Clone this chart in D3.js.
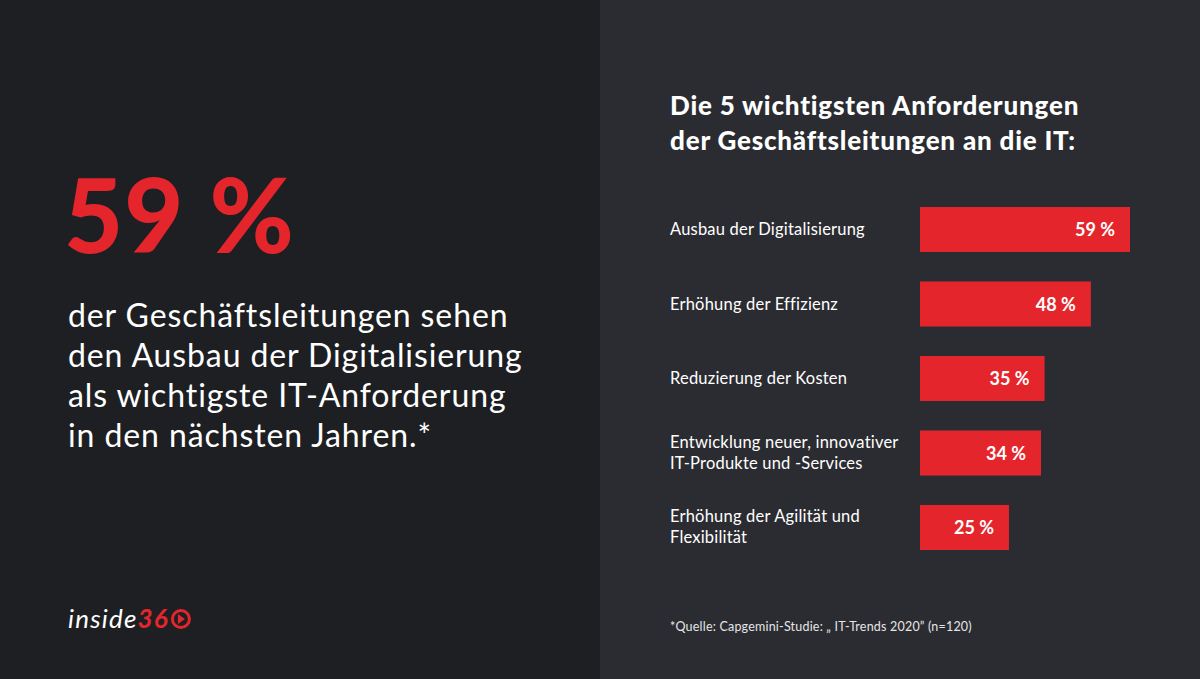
<!DOCTYPE html>
<html>
<head>
<meta charset="utf-8">
<script src="https://cdn.jsdelivr.net/npm/d3@7"></script>
<style>
  body { margin: 0; background: #1e1f23; }
  svg { display: block; font-family: Lato, "Open Sans", sans-serif; }
</style>
</head>
<body>
<div id="chart"></div>
<script>
// data
var categories = [
    ["Ausbau der Digitalisierung"],
    ["Erhöhung der Effizienz"],
    ["Reduzierung der Kosten"],
    ["Entwicklung neuer, innovativer", "IT-Produkte und -Services"],
    ["Erhöhung der Agilität und", "Flexibilität"]
];
var values = [59, 48, 35, 34, 25];
var headline = "59 %";
var bodyLines = ["der Geschäftsleitungen sehen", "den Ausbau der Digitalisierung", "als wichtigste IT-Anforderung", "in den nächsten Jahren.*"];
var titleLines = ["Die 5 wichtigsten Anforderungen", "der Geschäftsleitungen an die IT:"];
var source = "*Quelle: Capgemini-Studie: „ IT-Trends 2020” (n=120)";

var width = 1200, height = 679;
var red = "#e4262c";

var svg = d3.select("#chart").append("svg")
    .attr("width", width)
    .attr("height", height);

// two background panels
svg.append("rect").attr("width", 600).attr("height", height).attr("fill", "#1e1f23");
svg.append("rect").attr("x", 600).attr("width", 600).attr("height", height).attr("fill", "#2b2c31");

// left side: big number + text
svg.append("text")
    .attr("x", 64).attr("y", 253)
    .attr("fill", red)
    .attr("font-size", 102)
    .attr("font-weight", 900)
    .attr("letter-spacing", 1)
    .text(headline);

svg.append("g").selectAll("text")
    .data(bodyLines)
    .join("text")
    .attr("x", 68)
    .attr("y", function (d, i) { return 327 + i * 40; })
    .attr("fill", "#ffffff")
    .attr("font-size", 32)
    .attr("letter-spacing", 0.9)
    .text(function (d) { return d; });

// logo
var logo = svg.append("text")
    .attr("x", 68).attr("y", 628)
    .attr("font-size", 26)
    .attr("font-style", "italic")
    .attr("letter-spacing", 1.2);
logo.append("tspan").attr("fill", "#ffffff").text("inside");
logo.append("tspan").attr("fill", red).attr("font-weight", 700).text("36");
var logoEnd = 68 + logo.node().getComputedTextLength();
svg.append("circle").attr("cx", logoEnd + 12).attr("cy", 619).attr("r", 8.5)
    .attr("fill", "none").attr("stroke", red).attr("stroke-width", 3);
svg.append("path")
    .attr("d", "M" + (logoEnd + 9) + ",614 L" + (logoEnd + 16) + ",619 L" + (logoEnd + 9) + ",624 Z")
    .attr("fill", red);

// right side: title
svg.append("g").selectAll("text")
    .data(titleLines)
    .join("text")
    .attr("x", 670)
    .attr("y", function (d, i) { return 115 + i * 35; })
    .attr("fill", "#ffffff")
    .attr("font-size", 26)
    .attr("font-weight", 900)
    .attr("letter-spacing", 0.8)
    .text(function (d) { return d; });

// bar chart
var x = d3.scaleLinear()
    .domain([0, 59])
    .range([0, 210]);

var barX = 920, barTop = 207, step = 74.5, barH = 45;

var rows = svg.append("g").selectAll("g")
    .data(values)
    .join("g")
    .attr("transform", function (d, i) { return "translate(0," + (barTop + i * step) + ")"; });

rows.append("rect")
    .attr("x", barX)
    .attr("y", 0)
    .attr("width", function (d) { return x(d); })
    .attr("height", barH)
    .attr("fill", red);

rows.append("text")
    .attr("x", function (d) { return barX + x(d) - 15; })
    .attr("y", 29)
    .attr("text-anchor", "end")
    .attr("fill", "#ffffff")
    .attr("font-size", 18)
    .attr("font-weight", 700)
    .text(function (d) { return d + " %"; });

rows.append("g").selectAll("text")
    .data(function (d, i) { return categories[i].map(function (t, j) { return { t: t, j: j, n: categories[i].length }; }); })
    .join("text")
    .attr("x", 670)
    .attr("y", function (d) { return (d.n === 1 ? 28 : 17 + d.j * 21); })
    .attr("fill", "#ffffff")
    .attr("font-size", 16.5)
    .attr("letter-spacing", 0.2)
    .text(function (d) { return d.t; });

// footnote
svg.append("text")
    .attr("x", 670).attr("y", 631)
    .attr("fill", "#e6e6e6")
    .attr("font-size", 12.5)
    .attr("letter-spacing", 0.2)
    .text(source);
</script>
</body>
</html>
